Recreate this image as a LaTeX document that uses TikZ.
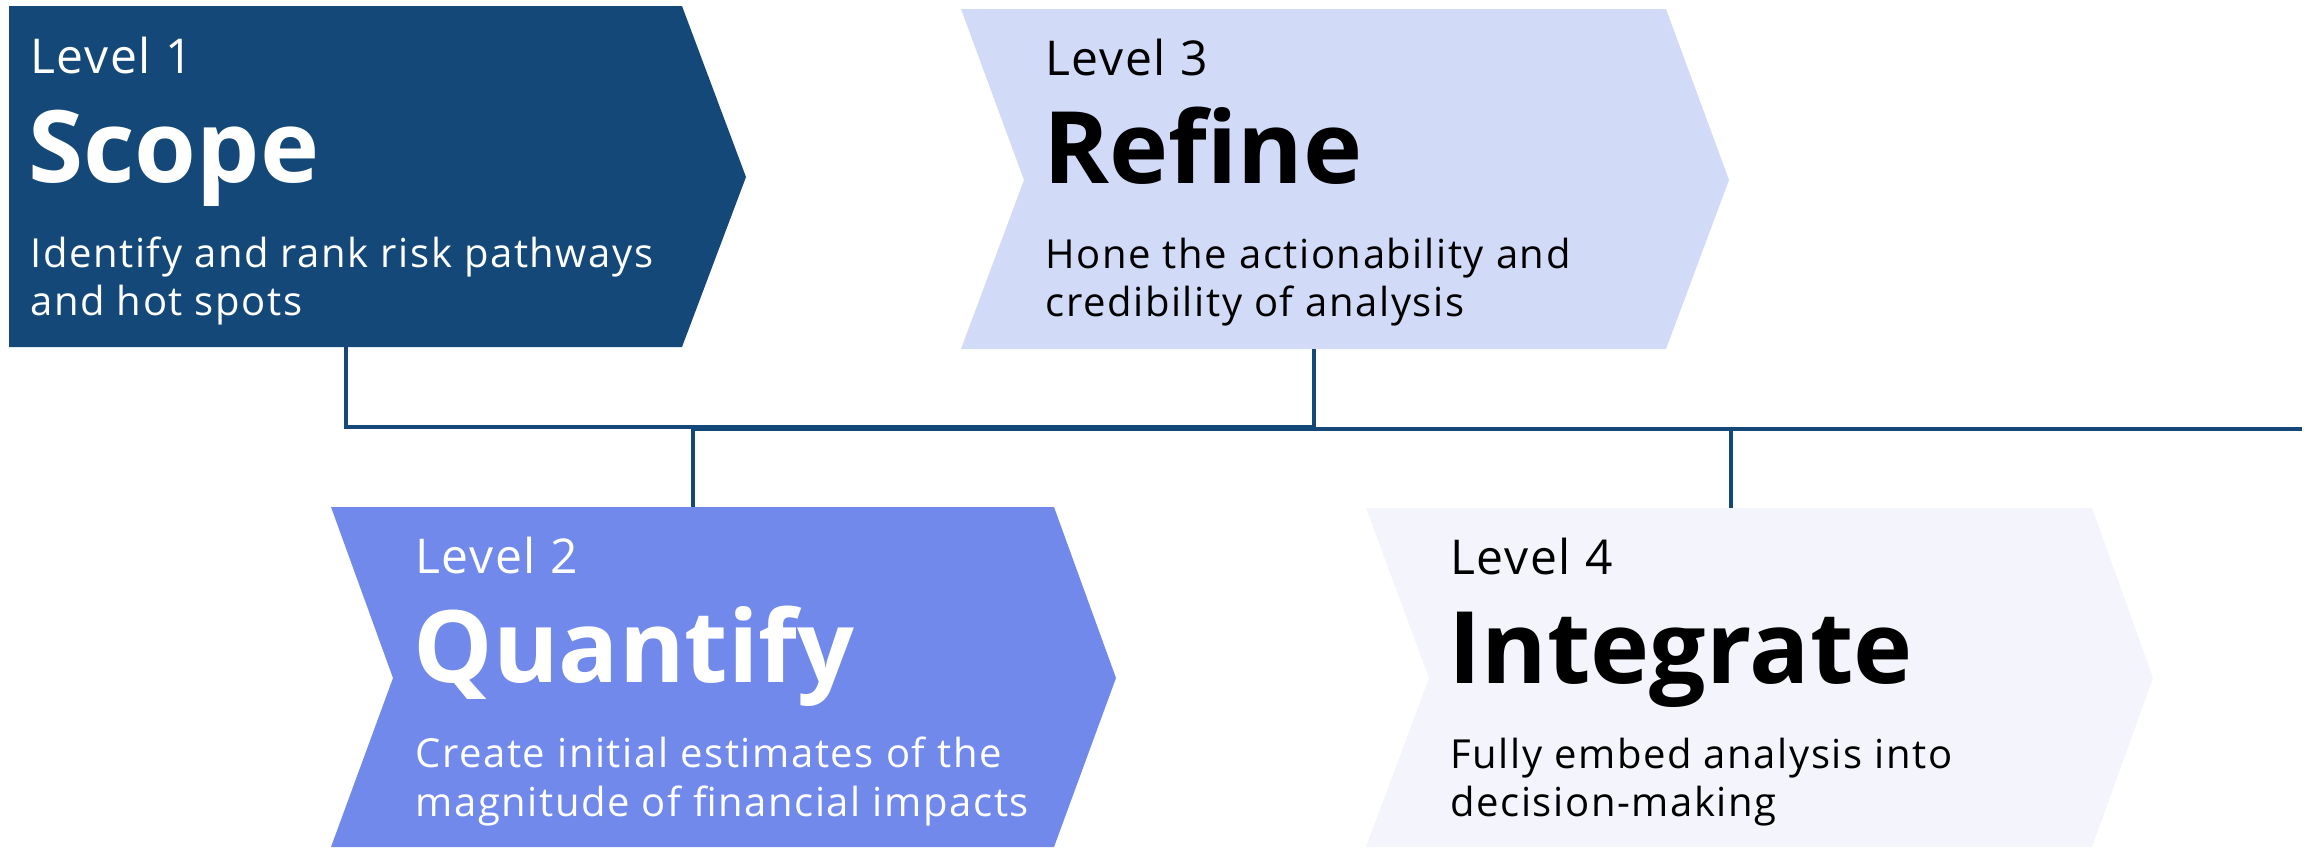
\documentclass[tikz,border=0pt]{standalone}
\usepackage{fontspec}
\setmainfont{Open Sans}

\definecolor{deepblue}{HTML}{134878}
\definecolor{paleblue}{HTML}{D1DAF7}
\definecolor{midblue}{HTML}{7289EC}
\definecolor{mistblue}{HTML}{F3F4FC}

\tikzset{
    lvltext/.style={anchor=base west, inner sep=0pt, font=\fontsize{24}{28}\selectfont\addfontfeature{LetterSpace=3.5}},
    ttltext/.style={anchor=base west, inner sep=0pt, font=\fontsize{50}{58}\selectfont\bfseries},
    dsctext/.style={anchor=base west, inner sep=0pt, font=\fontsize{20}{24}\selectfont\addfontfeature{LetterSpace=4}},
    link/.style={draw=deepblue, line width=1.7pt},
}

\begin{document}
\begin{tikzpicture}[x=0.5pt, y=-0.5pt]
    \useasboundingbox (0,0) rectangle (2308,847);

    % chevrons
    \fill[deepblue] (9,6) -- (682,6) -- (746,177) -- (682,347) -- (9,347) -- cycle;
    \fill[paleblue] (961,9) -- (1666,9) -- (1729,180) -- (1666,349) -- (961,349) -- (1024,180) -- cycle;
    \fill[midblue]  (331,507) -- (1054,507) -- (1116,678) -- (1054,847) -- (331,847) -- (393,678) -- cycle;
    \fill[mistblue] (1366,508) -- (2092,508) -- (2153,678) -- (2092,847) -- (1366,847) -- (1429,678) -- cycle;

    % connection points
    \coordinate (scopeb)  at (346,347);
    \coordinate (refineb) at (1314,349);
    \coordinate (quantt)  at (693,507);
    \coordinate (integt)  at (1731,508);
    \coordinate (upper)   at (700,427);
    \coordinate (lower)   at (693,429);
    \coordinate (railend) at (2302,429);

    % Level 1
    \node[lvltext, white] (lvl1) at (30,73) {Level 1};
    \node[ttltext, white] (ttl1) at (28,182) {Scope};
    \node[dsctext, white] (dsc1a) at (30,267) {Identify and rank risk pathways};
    \node[dsctext, white] (dsc1b) at (30,315) {and hot spots};

    % Level 3
    \node[lvltext] (lvl3) at (1045,75) {Level 3};
    \node[ttltext] (ttl3) at (1043,183) {Refine};
    \node[dsctext] (dsc3a) at (1045,268) {Hone the actionability and};
    \node[dsctext] (dsc3b) at (1045,316) {credibility of analysis};

    % Level 2
    \node[lvltext, white] (lvl2) at (415,573) {Level 2};
    \node[ttltext, white] (ttl2) at (413,682) {Quantify};
    \node[dsctext, white] (dsc2a) at (415,767) {Create initial estimates of the};
    \node[dsctext, white] (dsc2b) at (415,816) {magnitude of financial impacts};

    % Level 4
    \node[lvltext] (lvl4) at (1450,574) {Level 4};
    \node[ttltext] (ttl4) at (1448,683) {Integrate};
    \node[dsctext] (dsc4a) at (1450,768) {Fully embed analysis into};
    \node[dsctext] (dsc4b) at (1450,816) {decision-making};

    % connectors
    \draw[link] (scopeb) |- (upper) -| (refineb);
    \draw[link] (quantt) -- (lower) -- (railend);
    \draw[link] (integt) -- (integt |- lower);
\end{tikzpicture}
\end{document}
